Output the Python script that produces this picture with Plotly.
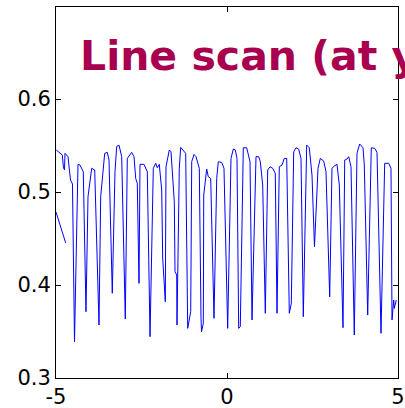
import plotly.graph_objects as go

# isolated short segment at the left edge
seg1_x = [-5.0, -4.716]
seg1_y = [0.4785, 0.4452]

scan_x = [-4.991, -4.816, -4.781, -4.751, -4.737, -4.649, -4.576, -4.518, -4.459, -4.357,
          -4.298, -4.202, -4.123, -4.064, -3.956, -3.868, -3.743, -3.693, -3.576, -3.5,
          -3.45, -3.354, -3.275, -3.225, -3.158, -3.079, -2.974, -2.915, -2.787, -2.719,
          -2.670, -2.623, -2.573, -2.544, -2.427, -2.330, -2.251, -2.155, -2.085, -2.038,
          -1.980, -1.909, -1.880, -1.804, -1.784, -1.687, -1.637, -1.541, -1.520, -1.471,
          -1.462, -1.395, -1.354, -1.208, -1.149, -1.061, -1.032, -0.965, -0.906, -0.810,
          -0.760, -0.745, -0.693, -0.680, -0.594, -0.547, -0.477, -0.380, -0.301, -0.254,
          -0.155, -0.088, 0.020, 0.117, 0.184, 0.243, 0.292, 0.342, 0.389, 0.477,
          0.576, 0.673, 0.731, 0.848, 0.927, 0.974, 1.044, 1.120, 1.190, 1.257,
          1.336, 1.412, 1.462, 1.529, 1.608, 1.675, 1.746, 1.822, 1.880, 1.950,
          2.018, 2.096, 2.164, 2.231, 2.330, 2.406, 2.485, 2.558, 2.661, 2.728,
          2.827, 2.895, 3.003, 3.070, 3.149, 3.216, 3.284, 3.392, 3.442, 3.509,
          3.558, 3.626, 3.722, 3.801, 3.880, 3.977, 4.015, 4.114, 4.219, 4.319,
          4.386, 4.503, 4.611, 4.728, 4.795, 4.825, 4.874, 4.892, 4.950]
scan_y = [0.5452, 0.5398, 0.5260, 0.5240, 0.5416, 0.5380, 0.5129, 0.5086, 0.3390, 0.5298,
          0.5290, 0.5218, 0.3713, 0.4950, 0.5255, 0.5237, 0.3570, 0.4950, 0.5416, 0.5427,
          0.5344, 0.3911, 0.5218, 0.5490, 0.5505, 0.5380, 0.3634, 0.5362, 0.5427, 0.5380,
          0.5147, 0.5094, 0.4018, 0.5298, 0.5298, 0.5218, 0.3444, 0.5255, 0.5309, 0.5261,
          0.5298, 0.5022, 0.4290, 0.3820, 0.5272, 0.5452, 0.5433, 0.4896, 0.4143, 0.4108,
          0.3570, 0.5255, 0.5480, 0.5416, 0.3534, 0.3713, 0.5326, 0.5405, 0.5380, 0.5255,
          0.3642, 0.3498, 0.3588, 0.4968, 0.5247, 0.5165, 0.5147, 0.3642, 0.5147, 0.5326,
          0.5319, 0.5255, 0.3534, 0.5362, 0.5462, 0.5452, 0.5362, 0.3534, 0.3552, 0.5476,
          0.5476, 0.5326, 0.3624, 0.5380, 0.5380, 0.5326, 0.5075, 0.3696, 0.5237, 0.5272,
          0.5255, 0.5201, 0.3696, 0.5272, 0.5290, 0.5362, 0.5362, 0.3696, 0.3803, 0.5433,
          0.5476, 0.5462, 0.5362, 0.3659, 0.5505, 0.5476, 0.5183, 0.4412, 0.5255, 0.5362,
          0.5333, 0.5218, 0.3874, 0.5255, 0.5283, 0.5298, 0.5075, 0.3541, 0.5344, 0.5355,
          0.5380, 0.5272, 0.3462, 0.5416, 0.5516, 0.5476, 0.5290, 0.3677, 0.5476, 0.5470,
          0.5427, 0.3481, 0.5309, 0.5309, 0.5255, 0.3624, 0.3839, 0.3749, 0.3840]

x_ticks = [-5, 0, 5]
x_tick_text = ["-5", "0", "5"]
y_ticks = [0.3, 0.4, 0.5, 0.6]
y_tick_text = ["0.3", "0.4", "0.5", "0.6"]
title_text = "Line scan (at y = 0)"

fig = go.Figure()
fig.add_trace(go.Scatter(x=seg1_x + [None] + scan_x, y=seg1_y + [None] + scan_y,
                         mode="lines", line=dict(color="#0000FF", width=1),
                         connectgaps=False, showlegend=False, hoverinfo="skip"))

axis_common = dict(showgrid=False, zeroline=False, showline=True, linecolor="black",
                   linewidth=1, mirror="ticks", ticks="inside", ticklen=5, tickwidth=1,
                   tickcolor="black", automargin=False,
                   tickfont=dict(family="DejaVu Sans, sans-serif", size=21, color="black"))

fig.update_xaxes(range=[-5, 5], tickvals=x_ticks, ticktext=x_tick_text, **axis_common)
fig.update_yaxes(range=[0.3, 0.699], tickvals=y_ticks, ticktext=y_tick_text, **axis_common)

fig.add_annotation(text="<b>" + title_text + "</b>", xref="paper", yref="paper",
                   x=0.064, y=0.868, xanchor="left", yanchor="middle", showarrow=False,
                   font=dict(family="DejaVu Sans", size=41, color="#A8004F"))

fig.update_layout(width=405, height=408, margin=dict(l=56, r=7, t=7, b=30),
                  plot_bgcolor="white", paper_bgcolor="white")

fig.write_html("out.html")
